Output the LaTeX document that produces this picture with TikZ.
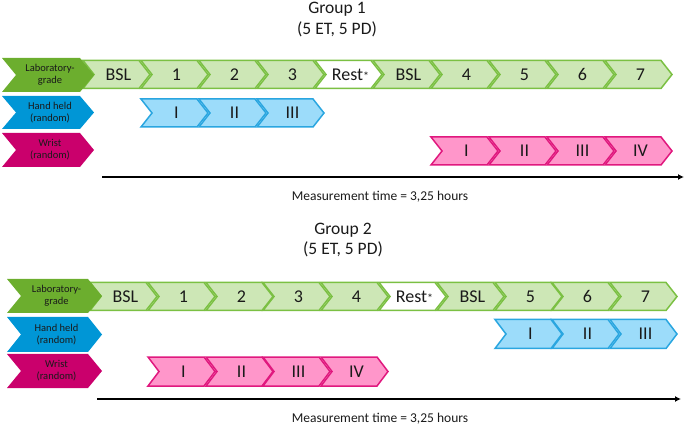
\documentclass[tikz,border=0pt]{standalone}
\usepackage{fontspec}
\setmainfont{Carlito}
\usetikzlibrary{arrows.meta}
\definecolor{labgreen}{HTML}{6CAE2E}
\definecolor{lgfill}{HTML}{CDE7B6}
\definecolor{lgdraw}{HTML}{7BC043}
\definecolor{hhblue}{HTML}{0096D6}
\definecolor{lbfill}{HTML}{9CDCFA}
\definecolor{lbdraw}{HTML}{2AA6E0}
\definecolor{wrmag}{HTML}{CA006C}
\definecolor{pkfill}{HTML}{FF96CA}
\definecolor{pkdraw}{HTML}{E0187E}
\definecolor{txt}{HTML}{1A1A1A}
\tikzset{
  greenchev/.style={fill=lgfill,draw=lgdraw,line width=1.5pt,line join=miter},
  restchev/.style={fill=white,draw=lgdraw,line width=1.5pt,line join=miter},
  bluechev/.style={fill=lbfill,draw=lbdraw,line width=1.5pt,line join=miter},
  pinkchev/.style={fill=pkfill,draw=pkdraw,line width=1.5pt,line join=miter},
  labchev/.style={fill=labgreen},
  hhchev/.style={fill=hhblue},
  wrchev/.style={fill=wrmag},
  chtext/.style={inner sep=0pt,text=txt,font=\fontsize{18}{20}\selectfont},
  lbltext/.style={inner sep=0pt,text=txt,align=center,font=\fontsize{10.5}{12}\selectfont},
  titletext/.style={inner sep=0pt,anchor=base,text=txt,font=\fontsize{17.5}{20}\selectfont},
  meastext/.style={inner sep=0pt,anchor=base,text=txt,font=\fontsize{13.5}{15}\selectfont},
  timeline/.style={line width=1.8pt,-{Latex[length=6pt,width=6pt]}}
}
\newcommand\smallast{{\fontsize{12}{12}\selectfont *}}
% #1 style, #2 left x, #3 tip x, #4 top y, #5 bottom y, #6 name, #7 text, #8 text style
\newcommand\chev[8]{%
  \path[#1] (#2,#4) -- ({#3-\cd},#4) -- (#3,{(#4+#5)/2}) -- ({#3-\cd},#5) -- (#2,#5) -- ({#2+\cd},{(#4+#5)/2}) -- cycle;
  \node[#8] (#6) at ({(#2+#3)/2+2},{(#4+#5)/2}) {#7};
}
\begin{document}
\begin{tikzpicture}[x=1pt,y=-1pt]
\useasboundingbox (0,0) rectangle (685,427);
% ---------------- Group 1 ----------------
\node[titletext] (g1t) at (337,14) {Group 1};
\node[titletext] (g1s) at (337,35) {(5 ET, 5 PD)};
\def\cd{11}
\chev{greenchev}{83}{150}{60.5}{88.5}{a0}{BSL}{chtext}
\chev{greenchev}{141}{208}{60.5}{88.5}{a1}{1}{chtext}
\chev{greenchev}{199}{266}{60.5}{88.5}{a2}{2}{chtext}
\chev{greenchev}{257}{324}{60.5}{88.5}{a3}{3}{chtext}
\chev{restchev}{315}{382}{60.5}{88.5}{ar}{Rest\smallast}{chtext}
\chev{greenchev}{373}{440}{60.5}{88.5}{ab}{BSL}{chtext}
\chev{greenchev}{431}{498}{60.5}{88.5}{a4}{4}{chtext}
\chev{greenchev}{489}{556}{60.5}{88.5}{a5}{5}{chtext}
\chev{greenchev}{547}{614}{60.5}{88.5}{a6}{6}{chtext}
\chev{greenchev}{605}{672}{60.5}{88.5}{a7}{7}{chtext}
\chev{bluechev}{141}{208}{99}{127}{b1}{I}{chtext}
\chev{bluechev}{199}{266}{99}{127}{b2}{II}{chtext}
\chev{bluechev}{257}{324}{99}{127}{b3}{III}{chtext}
\chev{pinkchev}{431}{498}{137}{165}{c1}{I}{chtext}
\chev{pinkchev}{489}{556}{137}{165}{c2}{II}{chtext}
\chev{pinkchev}{547}{614}{137}{165}{c3}{III}{chtext}
\chev{pinkchev}{605}{672}{137}{165}{c4}{IV}{chtext}
\def\cd{14}
\chev{labchev}{2}{94}{58}{92}{l1}{Laboratory-\\grade}{lbltext}
\chev{hhchev}{2}{94}{96}{129}{h1}{Hand held\\(random)}{lbltext}
\chev{wrchev}{2}{94}{133}{167}{w1}{Wrist\\(random)}{lbltext}
\coordinate (s1) at (102,177);
\coordinate (e1) at (684,177);
\draw[timeline] (s1) -- (e1);
\node[meastext] (m1) at (380,201) {Measurement time = 3,25 hours};
% ---------------- Group 2 ----------------
\node[titletext] (g2t) at (343,235) {Group 2};
\node[titletext] (g2s) at (343,255) {(5 ET, 5 PD)};
\def\cd{11}
\chev{greenchev}{90}{157}{282.5}{310.5}{d0}{BSL}{chtext}
\chev{greenchev}{148}{215}{282.5}{310.5}{d1}{1}{chtext}
\chev{greenchev}{206}{273}{282.5}{310.5}{d2}{2}{chtext}
\chev{greenchev}{263}{330}{282.5}{310.5}{d3}{3}{chtext}
\chev{greenchev}{321}{388}{282.5}{310.5}{d4}{4}{chtext}
\chev{restchev}{379}{446}{282.5}{310.5}{dr}{Rest\smallast}{chtext}
\chev{greenchev}{437}{504}{282.5}{310.5}{db}{BSL}{chtext}
\chev{greenchev}{495}{562}{282.5}{310.5}{d5}{5}{chtext}
\chev{greenchev}{552}{619}{282.5}{310.5}{d6}{6}{chtext}
\chev{greenchev}{610}{677}{282.5}{310.5}{d7}{7}{chtext}
\chev{bluechev}{495}{562}{319.5}{348.5}{e1b}{I}{chtext}
\chev{bluechev}{552}{619}{319.5}{348.5}{e2b}{II}{chtext}
\chev{bluechev}{610}{677}{319.5}{348.5}{e3b}{III}{chtext}
\chev{pinkchev}{148}{215}{357}{386}{f1}{I}{chtext}
\chev{pinkchev}{206}{273}{357}{386}{f2}{II}{chtext}
\chev{pinkchev}{263}{330}{357}{386}{f3}{III}{chtext}
\chev{pinkchev}{321}{388}{357}{386}{f4}{IV}{chtext}
\def\cd{14}
\chev{labchev}{7}{102}{279}{313}{l2}{Laboratory-\\grade}{lbltext}
\chev{hhchev}{7}{102}{317}{352}{h2}{Hand held\\(random)}{lbltext}
\chev{wrchev}{7}{102}{354}{388}{w2}{Wrist\\(random)}{lbltext}
\coordinate (s2) at (97,399);
\coordinate (e2) at (681,399);
\draw[timeline] (s2) -- (e2);
\node[meastext] (m2) at (380,422) {Measurement time = 3,25 hours};
\end{tikzpicture}
\end{document}
